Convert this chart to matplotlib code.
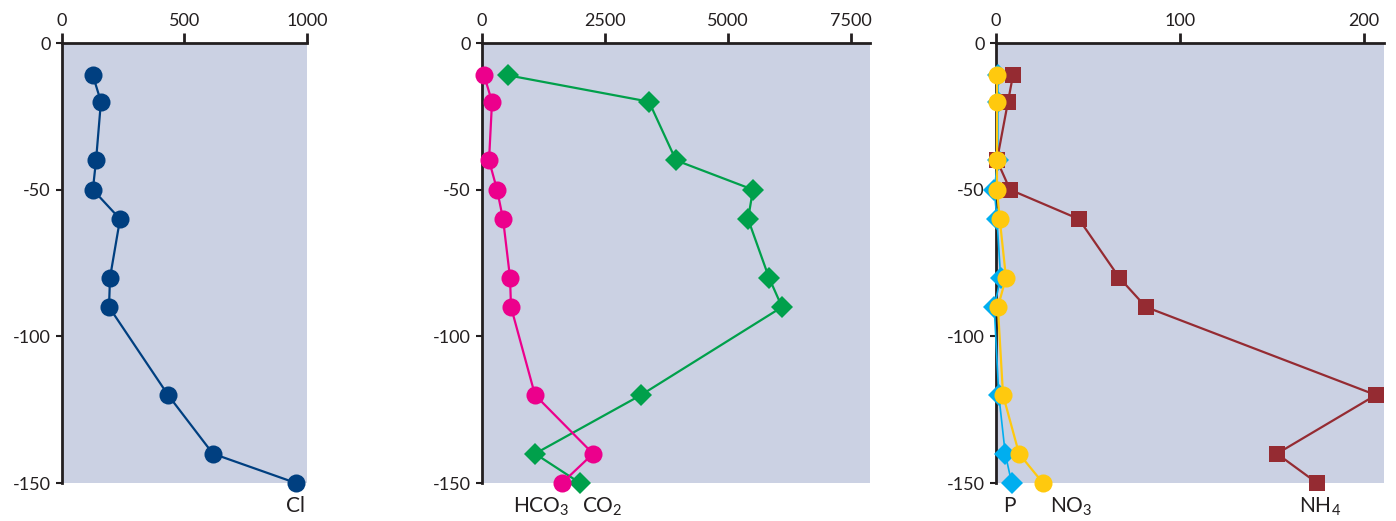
import matplotlib
matplotlib.use("Agg")
import matplotlib.pyplot as plt

plt.rcParams['font.family'] = ['Lato', 'DejaVu Sans']
plt.rcParams['mathtext.fontset'] = 'custom'
plt.rcParams['mathtext.rm'] = 'Lato'
plt.rcParams['mathtext.default'] = 'regular'
plt.rcParams['axes.unicode_minus'] = False

depth = [-11, -20, -40, -50, -60, -80, -90, -120, -140, -150]

cl = [126, 159, 139, 126, 237, 196, 192, 433, 616, 955]

hco3 = [41, 203, 142, 305, 427, 569, 589, 1077, 2256, 1626]
co2 = [528, 3394, 3943, 5508, 5407, 5833, 6098, 3232, 1077, 1992]

p = [1, 1, 1, -1, 0.5, 2.5, -1, 1.5, 5, 8.5]
no3 = [0.5, 0.5, 0.5, 0.5, 2, 5.4, 1, 3.8, 12.5, 25.5]
nh4 = [9.2, 6.5, 0.5, 7.6, 45, 67, 81.5, 206.5, 152.7, 174.5]

BG = '#cbd1e3'
INK = '#231f20'


def setup(ax, xmax, xticks):
    ax.set_facecolor(BG)
    ax.set_xlim(0, xmax)
    ax.set_ylim(-150, 0)
    ax.xaxis.tick_top()
    ax.set_xticks(xticks)
    ax.set_yticks([0, -50, -100, -150])
    for s in ('right', 'bottom'):
        ax.spines[s].set_visible(False)
    for s in ('left', 'top'):
        ax.spines[s].set_linewidth(2)
        ax.spines[s].set_color(INK)
    ax.tick_params(axis='x', direction='out', length=7, width=2, labelsize=13,
                   color=INK, labelcolor=INK, pad=3)
    ax.tick_params(axis='y', direction='out', length=4, width=1.5, labelsize=13,
                   color=INK, labelcolor=INK, pad=4)


def series(ax, x, color, marker, ms, lw=1.6):
    ax.plot(x, depth, color=color, lw=lw, marker=marker, ms=ms,
            markeredgewidth=0, clip_on=False, zorder=3)


def label(ax, x, s):
    ax.text(x, -158, s, ha='center', va='center', fontsize=15, color=INK)


fig = plt.figure(figsize=(13.96, 5.21), dpi=100)
bottom, height = 0.0729, 0.8445

ax1 = fig.add_axes([0.0444, bottom, 0.1755, height])
setup(ax1, 1000, [0, 500, 1000])
series(ax1, cl, '#003f80', 'o', 13)
label(ax1, 955, 'Cl')

ax2 = fig.add_axes([0.3453, bottom, 0.2779, height])
setup(ax2, 7886, [0, 2500, 5000, 7500])
series(ax2, co2, '#00a04b', 'D', 11)
series(ax2, hco3, '#ec008c', 'o', 13)
label(ax2, 1200, 'HCO$_3$')
label(ax2, 2450, 'CO$_2$')

ax3 = fig.add_axes([0.7135, bottom, 0.2779, height])
setup(ax3, 210.9, [0, 100, 200])
series(ax3, p, '#00aeef', 'D', 11, lw=1.2)
series(ax3, nh4, '#952b32', 's', 11)
series(ax3, no3, '#ffc90e', 'o', 13)
label(ax3, 7.5, 'P')
label(ax3, 41, 'NO$_3$')
label(ax3, 176, 'NH$_4$')

fig.savefig('out.png', dpi=100)
